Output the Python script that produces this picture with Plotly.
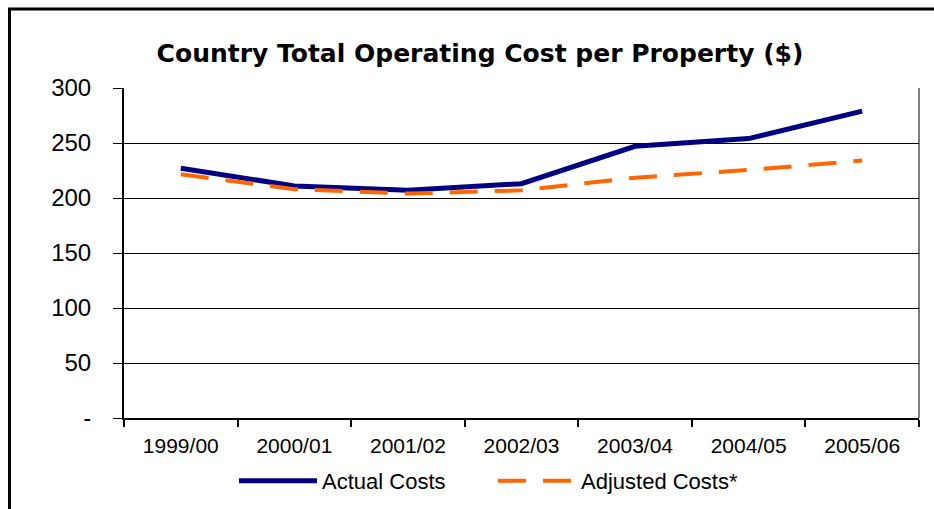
import plotly.graph_objects as go

categories = ["1999/00", "2000/01", "2001/02", "2002/03", "2003/04", "2004/05", "2005/06"]
actual_costs = [227, 211, 207, 213, 247, 254, 279]
adjusted_costs = [221.5, 208, 204, 207, 218.5, 225.5, 234]
y_tick_values = [0, 50, 100, 150, 200, 250, 300]
y_tick_labels = ["-", "50", "100", "150", "200", "250", "300"]

W, H = 934, 509
L, R, T, B = 124, 15, 88, 91
pw, ph = W - L - R, H - T - B

def px_x(x):
    return (x - L) / pw

def px_y(y):
    return (H - B - y) / ph

fig = go.Figure()
fig.add_trace(go.Scatter(
    x=categories, y=actual_costs, name="Actual Costs", mode="lines",
    line=dict(color="#000080", width=5),
))
fig.add_trace(go.Scatter(
    x=categories, y=adjusted_costs, name="Adjusted Costs*", mode="lines",
    line=dict(color="#FF6600", width=4, dash="28px,17px"),
))

font_main = "Liberation Sans, Arial, sans-serif"

fig.update_layout(
    width=W, height=H,
    margin=dict(l=L, r=R, t=T, b=B, autoexpand=False),
    paper_bgcolor="white", plot_bgcolor="white",
    title=dict(
        text="<b>Country Total Operating Cost per Property ($)</b>",
        font=dict(family="DejaVu Sans", size=25, color="black"),
        x=480 / W, xanchor="center", xref="container",
        y=1 - 53 / H, yanchor="middle", yref="container",
    ),
    showlegend=True,
    legend=dict(
        orientation="h", xref="container", yref="container",
        x=(240 - 6) / W, xanchor="left", y=1 - 481 / H, yanchor="middle",
        font=dict(family=font_main, size=22, color="black"),
        itemwidth=78, entrywidth=166, entrywidthmode="pixels",
        tracegroupgap=0, bgcolor="rgba(0,0,0,0)",
    ),
    xaxis=dict(
        type="category", range=[-0.5, 6.5], automargin=False,
        showline=True, linecolor="black", linewidth=2,
        ticks="outside", tickson="boundaries", ticklen=7, tickcolor="black", tickwidth=1.5,
        showgrid=False, zeroline=False,
        tickfont=dict(family=font_main, size=21, color="black"),
        ticklabelstandoff=8,
    ),
    yaxis=dict(
        range=[0, 300], tickvals=y_tick_values, ticktext=y_tick_labels, automargin=False,
        showline=True, linecolor="black", linewidth=2,
        ticks="outside", ticklen=9, tickcolor="black", tickwidth=1,
        showgrid=True, gridcolor="black", gridwidth=1, zeroline=False,
        tickfont=dict(family=font_main, size=24, color="black"),
        ticklabelstandoff=17,
    ),
    shapes=[
        dict(type="line", xref="paper", yref="paper", x0=1, x1=1, y0=0, y1=1,
             line=dict(color="black", width=1)),
        dict(type="line", xref="paper", yref="paper", x0=px_x(9.5), x1=px_x(9.5),
             y0=px_y(8), y1=px_y(H + 5), line=dict(color="black", width=3)),
        dict(type="line", xref="paper", yref="paper", x0=px_x(8), x1=px_x(W + 5),
             y0=px_y(9), y1=px_y(9), line=dict(color="black", width=3)),
    ],
)

fig.write_html(
    "out.html",
    config={"displayModeBar": False},
    post_script="document.body.style.margin='0';document.body.style.overflow='hidden';",
)
